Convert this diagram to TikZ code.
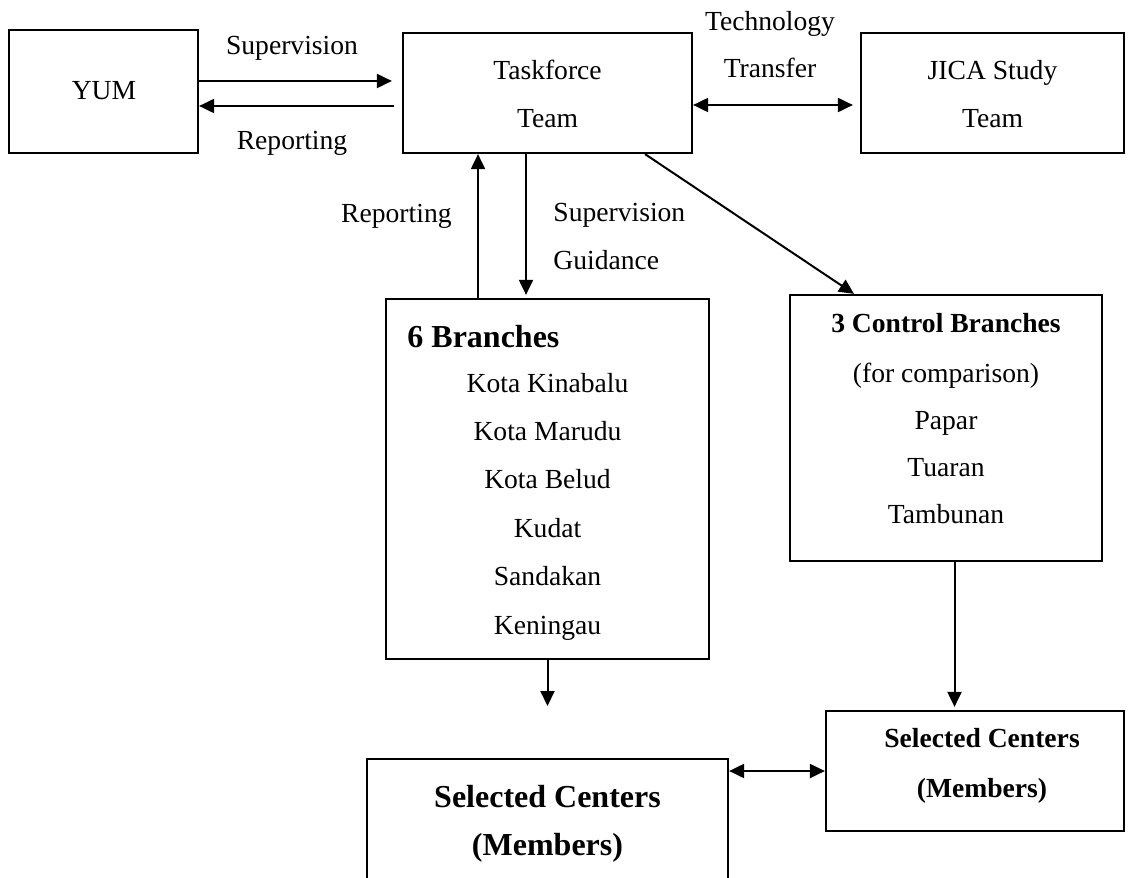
\documentclass[tikz,border=0pt]{standalone}
\usepackage{fontspec}
\setmainfont{Liberation Serif}
\usetikzlibrary{arrows.meta,calc}

\begin{document}
\begin{tikzpicture}[x=0.5pt,y=-0.5pt,
  box/.style={draw, line width=1.1pt, inner sep=0pt},
  txt/.style={inner sep=0pt, font=\fontsize{13.8}{16}\selectfont, text height=9.1pt, text depth=0pt},
  boldtxt/.style={txt, font=\fontsize{13.8}{16}\selectfont\bfseries},
  bigtxt/.style={inner sep=0pt, font=\fontsize{16}{19}\selectfont\bfseries, text height=10.6pt, text depth=0pt},
  tip/.style={-{Triangle[length=7.5pt,width=7pt]}},
  link/.style={line width=1pt, tip},
  twoway/.style={line width=1pt, {Triangle[length=7.5pt,width=7pt]}-{Triangle[length=7.5pt,width=7pt]}}
]
\fill[white] (0,0) rectangle (1128,877);
\useasboundingbox (0,0) rectangle (1128,877);
\clip (0,0) rectangle (1128,877);

% boxes
\node[box, minimum width=94.5pt, minimum height=61.5pt] (yum) at (103.5,91.5) {};
\node[box, minimum width=144.5pt, minimum height=60pt] (task) at (547.5,93) {};
\node[box, minimum width=131.5pt, minimum height=60pt] (jica) at (992.5,93) {};
\node[box, minimum width=161.5pt, minimum height=180pt] (six) at (547.5,479) {};
\node[box, minimum width=156pt, minimum height=133pt] (ctrl) at (946,428) {};
\node[box, minimum width=149pt, minimum height=60pt] (selR) at (975,771) {};
\node[box, minimum width=180.5pt, minimum height=70.5pt] (selL) at (547.5,829.5) {};

% box texts
\node[txt] (yumT) at (104,90) {YUM};
\node[txt] (taskA) at (547.5,70) {Taskforce};
\node[txt] (taskB) at (547.5,118) {Team};
\node[txt] (jicaA) at (992.5,70) {JICA Study};
\node[txt] (jicaB) at (992.5,118) {Team};

\node[bigtxt, anchor=west] (sixH) at (407,337) {6 Branches};
\foreach \name [count=\i from 0] in {Kota Kinabalu, Kota Marudu, Kota Belud, Kudat, Sandakan, Keningau}
  \node[txt] (six\i) at (547.5,383+48.4*\i) {\name};

\node[boldtxt] (ctrlH) at (946,323) {3 Control Branches};
\foreach \name [count=\i from 0] in {(for comparison), Papar, Tuaran, Tambunan}
  \node[txt] (ctrl\i) at (946,373+47*\i) {\name};

\node[boldtxt] (selRA) at (982,738) {Selected Centers};
\node[boldtxt] (selRB) at (982,788) {(Members)};
\node[bigtxt] (selLA) at (547.5,797) {Selected Centers};
\node[bigtxt] (selLB) at (547.5,845) {(Members)};

% connector labels
\node[txt] (lSup) at (292,45) {Supervision};
\node[txt] (lRep) at (292,140) {Reporting};
\node[txt] (lTech) at (770,21) {Technology};
\node[txt] (lTrans) at (770,68) {Transfer};
\node[txt, anchor=east] (lRep2) at (452,213) {Reporting};
\node[txt, anchor=west] (lSup2) at (553,212) {Supervision};
\node[txt, anchor=west] (lGuid) at (553,260) {Guidance};

% connector levels
\coordinate (supY) at (0,81);
\coordinate (repY) at (0,106);
\coordinate (ttY) at (0,105);
\coordinate (upX) at (478,0);
\coordinate (downX) at (526,0);
\coordinate (diagA) at (645,0);
\coordinate (diagB) at (854,0);
\coordinate (ctrlX) at (954.5,0);
\coordinate (selY) at (0,771);
\coordinate (sixEnd) at (547.5,706);

% connectors
\draw[link, shorten >=5pt] (yum.east |- supY) -- (task.west |- supY);
\draw[link, shorten <=4pt] (task.west |- repY) -- (yum.east |- repY);
\draw[twoway, shorten >=3.5pt] (task.east |- ttY) -- (jica.west |- ttY);
\draw[link] (six.north -| upX) -- (task.south -| upX);
\draw[link, shorten >=1.5pt] (task.south -| downX) -- (six.north -| downX);
\draw[link] (task.south -| diagA) -- (ctrl.north -| diagB);
\draw[link] (six.south) -- (sixEnd);
\draw[link, shorten >=1.5pt] (ctrl.south -| ctrlX) -- (selR.north -| ctrlX);
\draw[twoway] (selL.east |- selY) -- (selR.west |- selY);
\end{tikzpicture}
\end{document}
